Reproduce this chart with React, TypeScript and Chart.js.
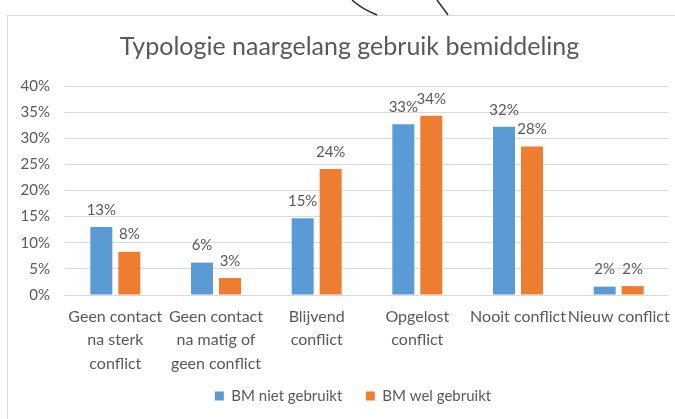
import React, { useEffect, useRef } from "react";
import { Chart, registerables } from "chart.js";

Chart.register(...registerables);

const categories: (string | string[])[] = [
  ["Geen contact", "na sterk", "conflict"],
  ["Geen contact", "na matig of", "geen conflict"],
  ["Blijvend", "conflict"],
  ["Opgelost", "conflict"],
  "Nooit conflict",
  "Nieuw conflict",
];
const bmNietGebruikt = [13.0, 6.2, 14.7, 32.7, 32.2, 1.6];
const bmWelGebruikt = [8.3, 3.25, 24.1, 34.3, 28.4, 1.7];
const seriesNames = ["BM niet gebruikt", "BM wel gebruikt"];
const yTicks = [0, 5, 10, 15, 20, 25, 30, 35, 40];
const titleText = "Typologie naargelang gebruik bemiddeling";

const FONT = "Lato";
const TEXT = "#595959";

const dataLabelPlugin = {
  id: "dataLabels",
  afterDatasetsDraw(chart: any) {
    const ctx = chart.ctx;
    ctx.save();
    ctx.font = `15px ${FONT}`;
    ctx.fillStyle = TEXT;
    ctx.textAlign = "center";
    ctx.textBaseline = "middle";
    chart.data.datasets.forEach((ds: any, di: number) => {
      const meta = chart.getDatasetMeta(di);
      meta.data.forEach((bar: any, i: number) => {
        const v = ds.data[i] as number;
        ctx.fillText(Math.round(v) + "%", bar.x, bar.y - 17);
      });
    });
    ctx.restore();
  },
};

// Nudge title and legend boxes (they are centred a little right of the canvas centre in the reference)
const nudgePlugin = {
  id: "nudge",
  afterLayout(chart: any) {
    const t = chart.titleBlock;
    if (t) {
      t.left += 15;
      t.right += 15;
    }
    const l = chart.legend;
    if (l) {
      l.left += 18.5;
      l.right += 18.5;
      l.top -= 12;
      l.bottom -= 12;
    }
  },
};

export default function App() {
  const ref = useRef<HTMLCanvasElement>(null);
  useEffect(() => {
    if (!ref.current) return;
    const chart = new Chart(ref.current, {
      type: "bar",
      data: {
        labels: categories,
        datasets: [
          {
            label: seriesNames[0],
            data: bmNietGebruikt,
            backgroundColor: "#5B9BD5",
            categoryPercentage: 0.556,
            barPercentage: 0.786,
          },
          {
            label: seriesNames[1],
            data: bmWelGebruikt,
            backgroundColor: "#ED7D31",
            categoryPercentage: 0.556,
            barPercentage: 0.786,
          },
        ],
      },
      options: {
        responsive: false,
        animation: false,
        devicePixelRatio: 1,
        layout: { padding: { left: 0, right: 6, top: 32, bottom: 0 } },
        plugins: {
          title: {
            display: true,
            text: titleText,
            color: TEXT,
            font: { family: FONT, size: 25, weight: "normal" as any, lineHeight: 1.2 },
            padding: { top: 0, bottom: 24 },
          },
          legend: {
            position: "bottom",
            maxHeight: 42,
            labels: {
              color: TEXT,
              font: { family: FONT, size: 15 },
              boxWidth: 9,
              boxHeight: 9,
              padding: 23.5,
            },
          },
          tooltip: { enabled: false },
        },
        scales: {
          x: {
            grid: { display: false, drawTicks: false },
            border: { display: false },
            ticks: {
              color: TEXT,
              font: { family: FONT, size: 16, lineHeight: 1.47 },
              padding: 10,
              maxRotation: 0,
              autoSkip: false,
            },
            afterFit(scale: any) {
              scale.height = 82;
              scale.paddingLeft = 0;
              scale.paddingRight = 0;
            },
          },
          y: {
            min: 0,
            max: 40,
            afterBuildTicks(scale: any) {
              scale.ticks = yTicks.map((v) => ({ value: v }));
            },
            grid: { color: "#d9d9d9", drawTicks: false },
            border: { display: false },
            ticks: {
              color: TEXT,
              font: { family: FONT, size: 15 },
              padding: 15,
              callback: (v: any) => v + "%",
            },
            afterFit(scale: any) {
              scale.width = 65;
            },
          },
        },
      },
      plugins: [dataLabelPlugin, nudgePlugin],
    });
    return () => chart.destroy();
  }, []);

  return (
    <div style={{ position: "fixed", left: 0, top: 0, width: 675, height: 419, background: "#fff", overflow: "hidden" }}>
      <div
        style={{
          position: "absolute",
          left: 7,
          top: 15,
          width: 675,
          height: 419,
          borderLeft: "1px solid #d9d9d9",
          borderTop: "1px solid #d9d9d9",
          boxSizing: "border-box",
        }}
      />
      <svg width={675} height={20} style={{ position: "absolute", left: 0, top: 0 }}>
        <path d="M352,0 Q362,9 377,15" stroke="#222" strokeWidth={1.4} fill="none" />
        <path d="M437,0 Q443,8 448,15" stroke="#222" strokeWidth={1.4} fill="none" />
      </svg>
      <canvas ref={ref} width={675} height={419} style={{ position: "absolute", left: 0, top: 0 }} />
    </div>
  );
}
